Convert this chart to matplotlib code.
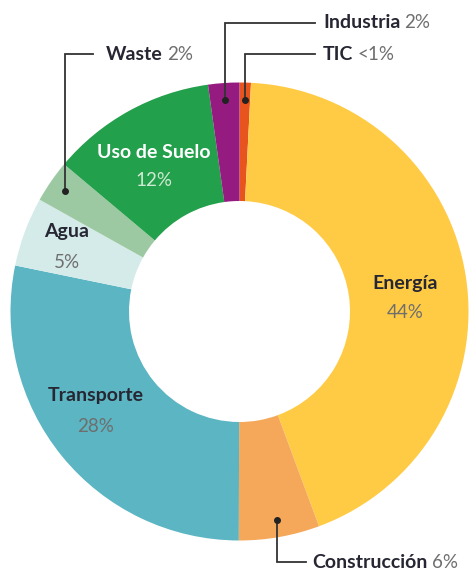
import numpy as np
import matplotlib.pyplot as plt

# Data (clockwise from 12 o'clock), slice sizes
names = ['TIC', 'Energía', 'Construcción', 'Transporte', 'Agua', 'Waste', 'Uso de Suelo', 'Industria']
values = [0.8, 43.6, 5.7, 28.2, 4.9, 3.0, 11.7, 2.2]
pct_labels = ['<1%', '44%', '6%', '28%', '5%', '2%', '12%', '2%']
colors = ['#E8541E', '#FFCB45', '#F5A85A', '#5BB5C2', '#D5EBEA', '#9DC9A2', '#23A04B', '#951B81']

W, H = 469, 574
plt.rcParams['font.family'] = ['Lato', 'DejaVu Sans']

fig = plt.figure(figsize=(W / 100, H / 100), dpi=100)
ax = fig.add_axes([0, 0, 1, 1])

cx, cy = 239.5, H - 311.5
R, r_in = 229, 110.5

wedges, _ = ax.pie(values, colors=colors, startangle=90, counterclock=False,
                   center=(cx, cy), radius=R, frame=True,
                   wedgeprops=dict(width=R - r_in, linewidth=0))
ax.set_xlim(0, W)
ax.set_ylim(0, H)
ax.axis('off')

NAME_C = '#272733'
PCT_C = '#6e6e6e'
FS_NAME, FS_PCT = 14, 13.5


def mid_point(w, rad):
    a = np.deg2rad((w.theta1 + w.theta2) / 2)
    return cx + rad * np.cos(a), cy + rad * np.sin(a)


# labels inside the ring: pixel position of (name, pct) centres
inside = {'Energía': (405, 283, 312),
          'Transporte': (96, 396, 427),
          'Agua': (67, 232, 263),
          'Uso de Suelo': (154, 152, 181)}
for i, n in enumerate(names):
    if n not in inside:
        continue
    x, y1, y2 = inside[n]
    white = n == 'Uso de Suelo'
    ax.text(x, H - y1, n, ha='center', va='center', fontsize=FS_NAME, fontweight='bold',
            color='white' if white else NAME_C)
    ax.text(x, H - y2, pct_labels[i], ha='center', va='center', fontsize=FS_PCT,
            color='#cfead3' if white else PCT_C)

# labels with leader lines: (name, text-y, line end x, text x)
leaders = [('Industria', 23, 315, 323),
           ('TIC', 54, 315, 323),
           ('Waste', 54, 93, 106),
           ('Construcción', 562, 306, 312)]
for n, ty, lx, tx in leaders:
    i = names.index(n)
    px, py = mid_point(wedges[i], 212)
    ty = H - ty
    ax.plot([px, px, lx], [py, ty, ty], color='#333333', lw=1.3, solid_joinstyle='miter')
    ax.plot(px, py, 'o', color='#222222', ms=4)
    t = ax.text(tx, ty, n, ha='left', va='center', fontsize=FS_NAME, fontweight='bold', color=NAME_C)
    ax.annotate(pct_labels[i], xy=(1, 0.5), xycoords=t, xytext=(3, 0), textcoords='offset points',
                ha='left', va='center', fontsize=FS_PCT, color=PCT_C)

fig.savefig('out.png', dpi=100)
